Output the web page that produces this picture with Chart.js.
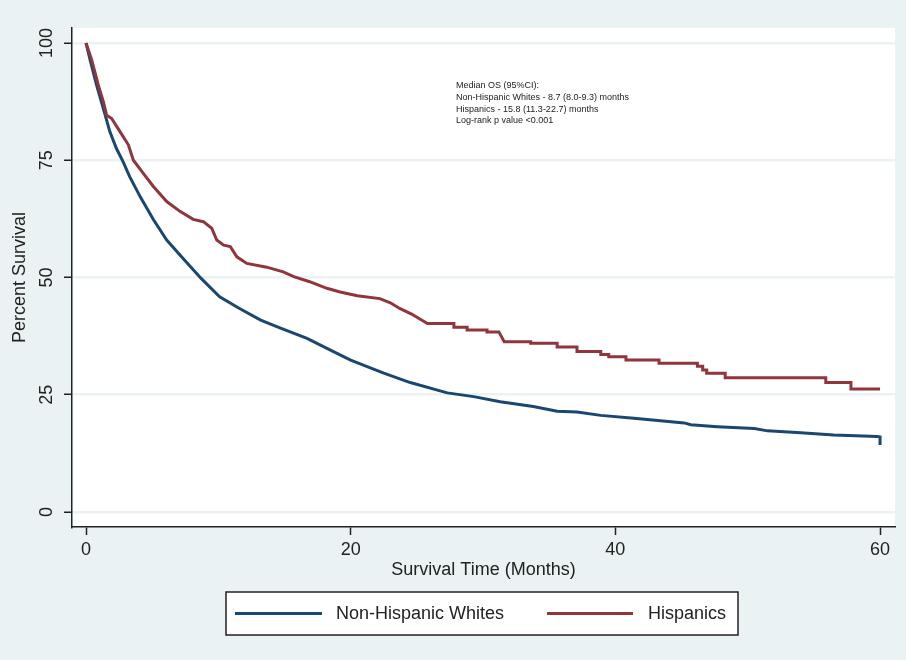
<!DOCTYPE html>
<html>
<head>
<meta charset="utf-8">
<script src="https://cdn.jsdelivr.net/npm/chart.js@4.4.1/dist/chart.umd.min.js"></script>
<style>
  html, body { margin: 0; padding: 0; background: #eaf2f3; }
  #wrap { width: 906px; height: 660px; }
</style>
</head>
<body>
<div id="wrap"><canvas id="km" width="906" height="660"></canvas></div>
<script>
// Kaplan-Meier curves (months, percent survival)
const nhwMonths = [0,0.3,0.8,1.3,1.8,2.3,2.8,3.3,4.1,5.1,6.1,7.1,7.9,8.7,10.1,11.6,13.2,14.7,16.7,18.7,
                   20.0,22.5,24.5,27.3,29.3,31.3,33.8,35.6,37.1,38.9,41.4,45.2,45.7,47.7,50.5,51.5,54.0,56.5,59.8,60,60];
const nhwSurv   = [100,96.5,91,86.1,81.1,77.5,74.7,71.5,67.2,62.3,58.0,54.8,52.3,49.8,45.9,43.4,40.9,39.2,37.0,34.2,
                   32.4,29.6,27.6,25.4,24.6,23.5,22.5,21.5,21.3,20.6,20.0,19.0,18.6,18.2,17.8,17.3,16.9,16.4,16.1,16.0,14.3];

const hisMonths = [0,0.43,0.93,1.31,1.56,1.94,2.57,3.2,3.58,4.33,5.09,6.1,7.1,8.1,8.87,9.5,9.88,10.4,10.9,11.4,
                   12.15,13.66,14.9,15.7,16.9,18.2,19.2,20.5,22.2,23.0,23.7,24.6,25.8,27.8,27.8,28.8,28.8,30.3,30.3,31.2,
                   31.6,33.6,33.6,35.6,35.6,37.1,37.1,38.9,38.9,39.5,39.5,40.8,40.8,43.3,43.3,46.2,46.2,46.6,46.6,46.9,
                   46.9,48.3,48.3,55.9,55.9,57.8,57.8,60];
const hisSurv   = [100,96.4,91.0,87.5,84.6,83.9,81.1,78.3,75.0,72.2,69.4,66.2,64.1,62.4,61.9,60.5,58.0,56.9,56.6,54.4,
                   53.0,52.2,51.2,50.2,49.1,47.7,46.9,46.1,45.5,44.6,43.4,42.2,40.2,40.2,39.4,39.4,38.8,38.8,38.4,38.4,
                   36.3,36.3,36.0,36.0,35.2,35.2,34.2,34.2,33.6,33.6,33.1,33.1,32.4,32.4,31.7,31.7,31.1,31.1,30.3,30.3,
                   29.6,29.6,28.6,28.6,27.6,27.6,26.2,26.2];

const xTicks = [0, 20, 40, 60];
const yTicks = [0, 25, 50, 75, 100];
const seriesNames = ['Non-Hispanic Whites', 'Hispanics'];
const noteLines = [
  'Median OS (95%CI):',
  'Non-Hispanic Whites - 8.7 (8.0-9.3) months',
  'Hispanics - 15.8 (11.3-22.7) months',
  'Log-rank p value <0.001'
];

const NAVY = '#1a476f';
const MAROON = '#90353b';
const BG = '#eaf2f3';
const INK = '#222';
const FONT = '"Liberation Sans", Arial, Helvetica, sans-serif';

const toPoints = (xs, ys) => xs.map((x, i) => ({ x, y: ys[i] }));

// background + white plot region
const backdrop = {
  id: 'backdrop',
  beforeDraw(chart) {
    const { ctx, chartArea: a } = chart;
    ctx.save();
    ctx.fillStyle = BG;
    ctx.fillRect(0, 0, chart.width, chart.height);
    ctx.fillStyle = '#fff';
    ctx.fillRect(a.left, a.top, a.right - a.left, a.bottom - a.top);
    ctx.restore();
  }
};

// rotated y tick labels, the note and the boxed legend
const extras = {
  id: 'extras',
  afterDraw(chart) {
    const { ctx } = chart;
    const ys = chart.scales.y;
    ctx.save();
    ctx.fillStyle = INK;
    ctx.font = '18px ' + FONT;
    ctx.textAlign = 'center';
    ctx.textBaseline = 'middle';
    yTicks.forEach(v => {
      const py = ys.getPixelForValue(v);
      ctx.save();
      ctx.translate(47, py);
      ctx.rotate(-Math.PI / 2);
      ctx.fillText(String(v), 0, 0);
      ctx.restore();
    });

    ctx.font = '9px ' + FONT;
    ctx.textAlign = 'left';
    ctx.textBaseline = 'alphabetic';
    noteLines.forEach((t, i) => ctx.fillText(t, 456, 88 + i * 11.8));

    // legend
    ctx.fillStyle = '#fff';
    ctx.fillRect(226, 592, 512, 43);
    ctx.strokeStyle = INK;
    ctx.lineWidth = 1.5;
    ctx.strokeRect(226, 592, 512, 43);
    const items = [
      { name: seriesNames[0], color: NAVY, x0: 235, x1: 322, tx: 336 },
      { name: seriesNames[1], color: MAROON, x0: 547, x1: 633, tx: 648 }
    ];
    ctx.font = '18px ' + FONT;
    ctx.textBaseline = 'middle';
    items.forEach(it => {
      ctx.strokeStyle = it.color;
      ctx.lineWidth = 3;
      ctx.beginPath();
      ctx.moveTo(it.x0, 613.5);
      ctx.lineTo(it.x1, 613.5);
      ctx.stroke();
      ctx.fillStyle = INK;
      ctx.fillText(it.name, it.tx, 614);
    });
    ctx.restore();
  }
};

new Chart(document.getElementById('km'), {
  type: 'line',
  data: {
    datasets: [
      {
        label: seriesNames[0],
        data: toPoints(nhwMonths, nhwSurv),
        borderColor: NAVY,
        borderWidth: 3,
        pointRadius: 0,
        tension: 0,
        order: 1
      },
      {
        label: seriesNames[1],
        data: toPoints(hisMonths, hisSurv),
        borderColor: MAROON,
        borderWidth: 3,
        pointRadius: 0,
        tension: 0,
        order: 0
      }
    ]
  },
  options: {
    responsive: false,
    animation: false,
    layout: { padding: { top: 28, right: 11, left: 0, bottom: 73 } },
    plugins: { legend: { display: false }, tooltip: { enabled: false } },
    scales: {
      x: {
        type: 'linear',
        min: -1.058,
        max: 61.13,
        afterBuildTicks: s => { s.ticks = xTicks.map(v => ({ value: v })); },
        afterFit: s => { s.height = 60; },
        grid: { drawOnChartArea: false, drawTicks: true, tickLength: 8, tickColor: INK, tickWidth: 1.5 },
        border: { display: true, color: INK, width: 1.5 },
        ticks: { color: INK, font: { size: 18, family: FONT }, padding: 4, maxRotation: 0 },
        title: { display: true, text: 'Survival Time (Months)', color: INK,
                 font: { size: 18, family: FONT }, padding: { top: 0, bottom: 6 } }
      },
      y: {
        type: 'linear',
        min: -3.2,
        max: 103.2,
        afterBuildTicks: s => { s.ticks = yTicks.map(v => ({ value: v })); },
        afterFit: s => { s.width = 72; },
        grid: { color: BG, lineWidth: 2.5, drawTicks: true, tickLength: 8, tickColor: INK, tickWidth: 1.5 },
        border: { display: true, color: INK, width: 1.5 },
        ticks: { display: false },
        title: { display: true, text: 'Percent Survival', color: INK,
                 font: { size: 18, family: FONT }, padding: { top: 9, bottom: 0 } }
      }
    }
  },
  plugins: [backdrop, extras]
});
</script>
</body>
</html>
